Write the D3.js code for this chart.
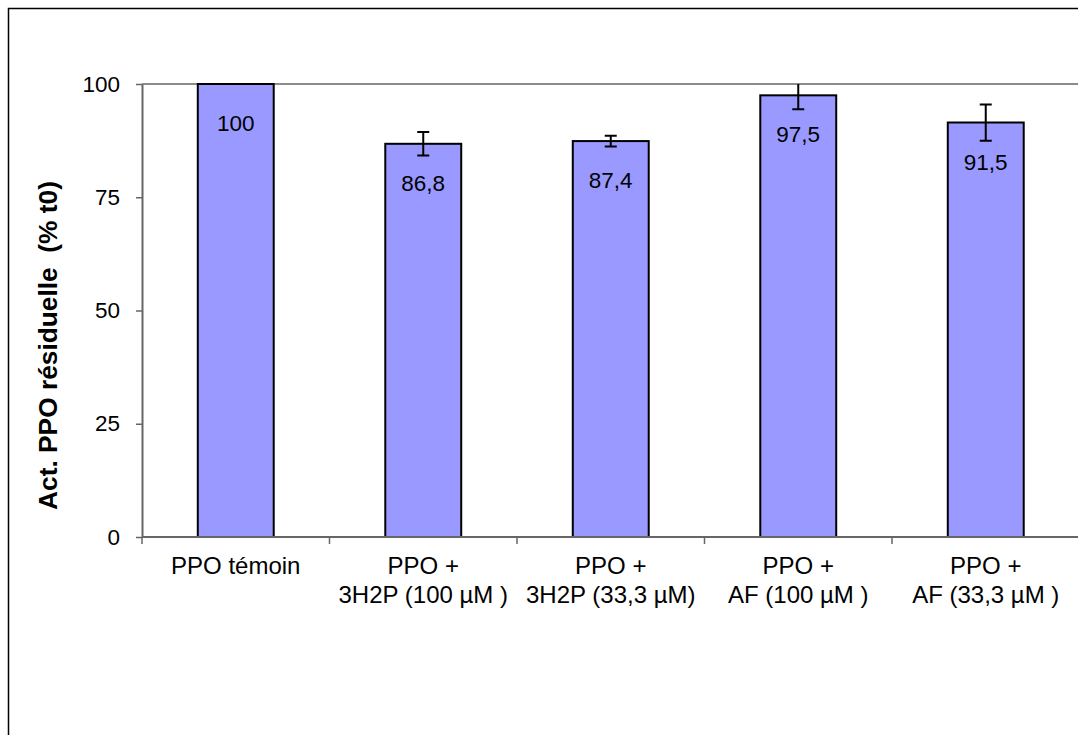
<!DOCTYPE html>
<html><head><meta charset="utf-8">
<script src="https://cdn.jsdelivr.net/npm/d3@7"></script>
<style>
html,body{margin:0;padding:0;background:#fff;}
svg{display:block;font-family:"Liberation Sans",Arial,sans-serif;}
</style></head>
<body>
<svg id="chart" width="1078" height="735"></svg>
<script>
const categories = ["PPO témoin", "PPO + 3H2P (100 µM )", "PPO + 3H2P (33,3 µM)", "PPO + AF (100 µM )", "PPO + AF (33,3 µM )"];
const labelLine1 = ["PPO témoin", "PPO +", "PPO +", "PPO +", "PPO +"];
const labelLine2 = ["", "3H2P (100 µM )", "3H2P (33,3 µM)", "AF (100 µM )", "AF (33,3 µM )"];
const values = [100, 86.8, 87.4, 97.5, 91.5];
const errors = [0, 2.6, 1.2, 3.1, 4.0];
const yTicks = [0, 25, 50, 75, 100];
const yTitle = "Act. PPO résiduelle  (% t0)";

(function () {
const svg = d3.select("#chart");
const pLeft = 142, pRight = 1079.5, pTop = 84, pBottom = 537;

const x = d3.scaleBand().domain(categories).range([pLeft, pRight]).paddingInner(0.595).paddingOuter(0.2975);
const xCat = d3.scaleBand().domain(categories).range([pLeft, pRight]).padding(0);
const y = d3.scaleLinear().domain([0, 100]).range([pBottom, pTop]);

// outer border
svg.append("rect").attr("x", 8.5).attr("y", 8.5).attr("width", 1200).attr("height", 1000)
  .attr("fill", "none").attr("stroke", "#000").attr("stroke-width", 1.5);

// top gridline
svg.append("line").attr("x1", pLeft).attr("x2", 1078).attr("y1", y(100)).attr("y2", y(100))
  .attr("stroke", "#8c8c8c").attr("stroke-width", 2);

svg.append("defs").append("clipPath").attr("id", "plotclip")
  .append("rect").attr("x", pLeft).attr("y", pTop).attr("width", pRight - pLeft).attr("height", pBottom - pTop);

// bars
svg.append("g").selectAll("rect").data(values).join("rect")
  .attr("x", (d, i) => x(categories[i]))
  .attr("y", d => y(d))
  .attr("width", x.bandwidth())
  .attr("height", d => y(0) - y(d))
  .attr("fill", "#9999ff").attr("stroke", "#000").attr("stroke-width", 2);

// error bars
const eg = svg.append("g").attr("clip-path", "url(#plotclip)").attr("stroke", "#000").attr("stroke-width", 2);
values.forEach((v, i) => {
  if (!errors[i]) return;
  const cx = x(categories[i]) + x.bandwidth() / 2;
  const y1 = y(v + errors[i]), y2 = y(v - errors[i]);
  eg.append("line").attr("x1", cx).attr("x2", cx).attr("y1", y1).attr("y2", y2);
  eg.append("line").attr("x1", cx - 6).attr("x2", cx + 6).attr("y1", y1).attr("y2", y1);
  eg.append("line").attr("x1", cx - 6).attr("x2", cx + 6).attr("y1", y2).attr("y2", y2);
});

// value labels
const fmt = d => (Number.isInteger(d) ? String(d) : d.toFixed(1).replace(".", ","));
svg.append("g").selectAll("text").data(values).join("text")
  .attr("x", (d, i) => x(categories[i]) + x.bandwidth() / 2)
  .attr("y", d => y(d) + 47)
  .attr("text-anchor", "middle").attr("font-size", 22.5).attr("fill", "#000")
  .text(fmt);

// y axis
const yAxis = svg.append("g").attr("transform", `translate(${pLeft},0)`)
  .call(d3.axisLeft(y).tickValues(yTicks).tickSize(6).tickPadding(16).tickSizeOuter(0));
yAxis.select(".domain").attr("stroke", "#666").attr("stroke-width", 2);
yAxis.selectAll(".tick line").attr("stroke", "#666").attr("stroke-width", 1.5);
yAxis.selectAll(".tick text").attr("font-size", 22.5).attr("fill", "#000")
  .attr("font-family", "Liberation Sans, Arial, sans-serif");

// x axis
svg.append("line").attr("x1", pLeft).attr("x2", 1078).attr("y1", pBottom).attr("y2", pBottom)
  .attr("stroke", "#666").attr("stroke-width", 2);
const tickXs = categories.map(c => xCat(c));
svg.append("g").selectAll("line").data(tickXs).join("line")
  .attr("x1", d => d).attr("x2", d => d).attr("y1", pBottom).attr("y2", pBottom + 7)
  .attr("stroke", "#666").attr("stroke-width", 1.5);

const xl = svg.append("g").attr("font-size", 24).attr("text-anchor", "middle").attr("fill", "#000");
categories.forEach((c, i) => {
  const cx = xCat(c) + xCat.bandwidth() / 2;
  xl.append("text").attr("x", cx).attr("y", 574).text(labelLine1[i]);
  if (labelLine2[i]) xl.append("text").attr("x", cx).attr("y", 603).text(labelLine2[i]);
});

// y title
svg.append("text").attr("transform", "translate(57,345.5) rotate(-90)")
  .attr("text-anchor", "middle").attr("font-size", 26.3).attr("font-weight", "bold")
  .attr("xml:space", "preserve").style("white-space", "pre")
  .text(yTitle);
})();
</script>
</body></html>
